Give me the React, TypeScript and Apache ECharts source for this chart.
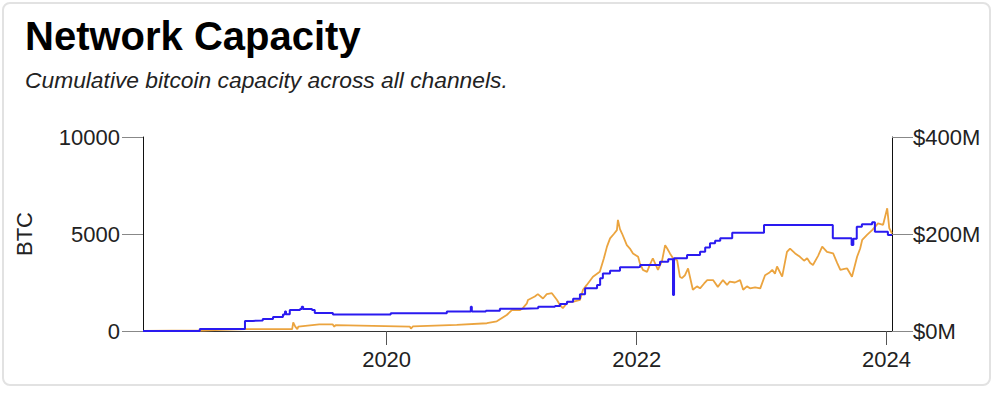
import React, { useEffect, useRef } from "react";
import * as echarts from "echarts";

// ---- Data ----
const xStart = "2018-01-19";
const xEnd = "2024-01-17";
const xTickYears = [2020, 2022, 2024];

// Network capacity in BTC (left axis), value holds until next change
const btcDates = [
  "2018-01-19", "2018-07-04", "2018-11-13", "2018-12-06", "2019-01-04", "2019-02-03",
  "2019-03-04", "2019-03-10", "2019-03-13", "2019-03-24", "2019-04-23", "2019-04-28", "2019-05-02",
  "2019-05-28", "2019-06-05", "2019-07-28", "2020-01-13", "2020-06-25", "2020-09-03",
  "2020-09-06", "2020-10-17", "2020-11-27", "2021-01-31", "2021-03-19", "2021-05-07",
  "2021-05-22", "2021-06-11", "2021-06-29", "2021-07-19", "2021-08-03", "2021-09-07",
  "2021-09-16", "2021-09-24", "2021-10-15", "2021-11-13", "2022-01-05", "2022-01-11",
  "2022-03-10", "2022-04-03", "2022-04-17", "2022-04-20", "2022-05-28", "2022-07-05",
  "2022-07-20", "2022-08-03", "2022-08-18", "2022-09-02", "2022-10-07", "2023-01-08",
  "2023-07-28", "2023-09-21", "2023-09-26", "2023-10-06", "2023-10-21", "2023-11-20",
  "2023-11-28", "2024-01-05", "2024-01-17",
];
const btcValues = [
  0, 100, 520, 540, 620, 720,
  850, 1000, 860, 1080, 1130, 1250, 1130,
  1080, 930, 850, 910, 1000, 1250,
  1000, 1045, 1150, 1170, 1250, 1290,
  1390, 1510, 1665, 1900, 2200, 2370,
  2715, 2970, 3110, 3280, 3315, 3400,
  3570, 3700, 1850, 3750, 3920, 4090,
  4300, 4520, 4650, 4780, 5070, 5460,
  4780, 4430, 4750, 5380, 5500, 5600,
  5120, 4950, 4950,
];

// Network capacity in USD millions (right axis)
const usdDates = [
  "2018-01-19", "2018-07-04", "2018-11-13", "2019-03-31", "2019-04-03", "2019-04-09",
  "2019-04-15", "2019-04-18", "2019-06-18", "2019-07-27", "2019-08-01", "2019-08-05",
  "2020-03-09", "2020-03-12", "2020-03-18", "2020-07-24", "2020-10-20", "2020-11-18",
  "2020-12-17", "2021-01-01", "2021-01-24", "2021-02-02", "2021-02-14", "2021-02-17",
  "2021-03-09", "2021-03-18", "2021-04-02", "2021-04-13", "2021-04-28", "2021-05-13",
  "2021-05-21", "2021-05-30", "2021-06-14", "2021-06-28", "2021-07-19", "2021-07-28",
  "2021-08-08", "2021-08-26", "2021-09-15", "2021-09-27", "2021-10-06", "2021-10-15",
  "2021-10-26", "2021-11-04", "2021-11-07", "2021-11-13", "2021-11-19", "2021-12-03",
  "2021-12-12", "2021-12-21", "2022-01-05", "2022-01-10", "2022-01-19", "2022-01-31",
  "2022-02-08", "2022-02-17", "2022-03-04", "2022-03-16", "2022-03-25", "2022-03-31",
  "2022-04-08", "2022-04-17", "2022-04-29", "2022-05-07", "2022-05-13", "2022-05-22",
  "2022-05-31", "2022-06-14", "2022-06-26", "2022-07-05", "2022-07-17", "2022-07-26",
  "2022-08-12", "2022-08-26", "2022-09-10", "2022-09-22", "2022-09-30", "2022-10-15",
  "2022-10-30", "2022-11-08", "2022-11-19", "2022-11-28", "2022-12-13", "2022-12-28",
  "2023-01-11", "2023-01-23", "2023-02-01", "2023-02-09", "2023-02-15", "2023-03-02",
  "2023-03-16", "2023-03-25", "2023-04-09", "2023-04-23", "2023-05-05", "2023-05-14",
  "2023-05-23", "2023-05-31", "2023-06-15", "2023-06-27", "2023-07-11", "2023-07-29",
  "2023-08-10", "2023-08-19", "2023-08-31", "2023-09-08", "2023-09-22", "2023-10-07",
  "2023-10-16", "2023-10-22", "2023-11-05", "2023-11-20", "2023-11-29", "2023-12-07",
  "2023-12-22", "2024-01-03", "2024-01-09", "2024-01-17",
];
const usdValues = [
  0, 1, 4, 4, 18, 9,
  4, 9, 13.8, 13.8, 9, 12,
  9, 5, 9.5, 12.5, 16, 20,
  33, 43, 43, 47, 57, 64,
  71, 76, 67, 76, 78, 64,
  54, 47, 60, 60, 64, 85,
  95, 112, 122, 150, 174, 191,
  200, 208, 229, 210, 201, 177,
  170, 160, 153, 140, 126, 122,
  136, 150, 126, 145, 177, 170,
  160, 150, 146, 112, 109, 115,
  129, 85, 92, 88, 98, 105,
  105, 91, 105, 95, 102, 100,
  105, 85, 92, 88, 90, 88,
  115, 120, 126, 118, 133, 112,
  163, 170, 160, 153, 145, 150,
  140, 136, 155, 174, 163, 160,
  140, 126, 128, 129, 112, 153,
  170, 188, 198, 208, 215, 222,
  219, 253, 212, 201,
];

const titleText = "Network Capacity";
const subtitleText = "Cumulative bitcoin capacity across all channels.";
const leftAxisName = "BTC";

const FONT = "'Liberation Sans', Arial, Helvetica, sans-serif";
const LABEL_SIZE = 22;

const toTs = (d: string) => {
  const [y, m, day] = d.split("-").map(Number);
  return new Date(y, m - 1, day).getTime();
};

export default function App() {
  const ref = useRef<HTMLDivElement>(null);

  useEffect(() => {
    if (!ref.current) return;
    const chart = echarts.init(ref.current, undefined, { renderer: "svg" });
    const tickValues = xTickYears.map((y) => new Date(y, 0, 1).getTime());

    chart.setOption({
      animation: false,
      textStyle: { fontFamily: FONT },
      grid: { left: 143, right: 106, top: 137, bottom: 63, containLabel: false },
      graphic: [
        {
          type: "text",
          left: 25,
          top: 16,
          style: { text: titleText, font: `bold 40px ${FONT}`, fill: "#000" },
        },
        {
          type: "text",
          left: 25,
          top: 68,
          style: { text: subtitleText, font: `italic 22.8px ${FONT}`, fill: "#222" },
        },
        {
          type: "text",
          x: 24,
          y: 234,
          rotation: Math.PI / 2,
          style: {
            text: leftAxisName,
            font: `${LABEL_SIZE}px ${FONT}`,
            fill: "#222",
            align: "center",
            verticalAlign: "middle",
          },
        },
      ],
      xAxis: {
        type: "value",
        min: toTs(xStart),
        max: toTs(xEnd),
        axisLine: { show: true, lineStyle: { color: "#333", width: 1 } },
        axisTick: {
          show: true,
          length: 14,
          customValues: tickValues,
          lineStyle: { color: "#555" },
        },
        axisLabel: {
          customValues: tickValues,
          formatter: (v: number) => String(new Date(v).getFullYear()),
          color: "#222",
          fontSize: LABEL_SIZE,
          fontFamily: FONT,
          margin: 17,
        },
        splitLine: { show: false },
      },
      yAxis: [
        {
          type: "value",
          position: "left",
          min: 0,
          max: 10000,
          interval: 5000,
          axisLine: { show: true, lineStyle: { color: "#111" } },
          axisTick: { show: true, length: 21, lineStyle: { color: "#888" } },
          axisLabel: {
            color: "#222",
            fontSize: LABEL_SIZE,
            fontFamily: FONT,
            margin: 23,
            formatter: (v: number) => String(v),
          },
          splitLine: { show: false },
        },
        {
          type: "value",
          position: "right",
          min: 0,
          max: 400,
          interval: 200,
          axisLine: { show: true, lineStyle: { color: "#111" } },
          axisTick: { show: true, length: 21, lineStyle: { color: "#888" } },
          axisLabel: {
            color: "#222",
            fontSize: LABEL_SIZE,
            fontFamily: FONT,
            margin: 21,
            formatter: (v: number) => `$${v}M`,
          },
          splitLine: { show: false },
        },
      ],
      series: [
        {
          name: "USD",
          type: "line",
          yAxisIndex: 1,
          showSymbol: false,
          data: usdDates.map((d, i) => [toTs(d), usdValues[i]]),
          lineStyle: { color: "#eba43f", width: 1.8 },
          itemStyle: { color: "#eba43f" },
          z: 2,
        },
        {
          name: "BTC",
          type: "line",
          yAxisIndex: 0,
          step: "end",
          showSymbol: false,
          data: btcDates.map((d, i) => [toTs(d), btcValues[i]]),
          lineStyle: { color: "#2a1af0", width: 2 },
          itemStyle: { color: "#2a1af0" },
          z: 3,
        },
      ],
    });

    return () => chart.dispose();
  }, []);

  return (
    <div style={{ position: "fixed", left: 0, top: 0, width: 998, height: 394, background: "#fff" }}>
      <div
        style={{
          position: "absolute",
          left: 2,
          top: 2,
          width: 989,
          height: 384,
          boxSizing: "border-box",
          border: "2px solid #e2e2e2",
          borderRadius: 8,
        }}
      />
      <div ref={ref} style={{ position: "absolute", left: 0, top: 0, width: 998, height: 394 }} />
    </div>
  );
}
